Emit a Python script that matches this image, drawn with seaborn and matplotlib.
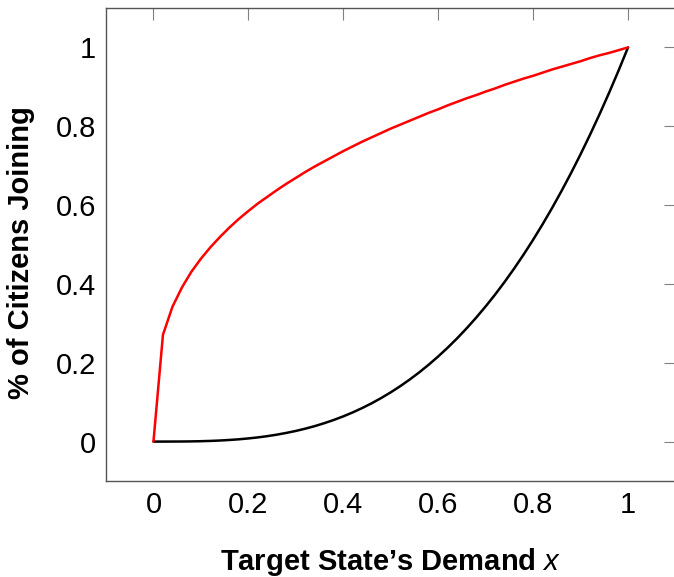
import matplotlib
matplotlib.use("Agg")
import matplotlib.pyplot as plt
import seaborn as sns
import pandas as pd

# sampled demand values (step 0.02)
demand = [0.00, 0.02, 0.04, 0.06, 0.08, 0.10, 0.12, 0.14, 0.16, 0.18,
          0.20, 0.22, 0.24, 0.26, 0.28, 0.30, 0.32, 0.34, 0.36, 0.38,
          0.40, 0.42, 0.44, 0.46, 0.48, 0.50, 0.52, 0.54, 0.56, 0.58,
          0.60, 0.62, 0.64, 0.66, 0.68, 0.70, 0.72, 0.74, 0.76, 0.78,
          0.80, 0.82, 0.84, 0.86, 0.88, 0.90, 0.92, 0.94, 0.96, 0.98, 1.00]

# upper (red) curve
joining_high = [0.000, 0.271, 0.342, 0.391, 0.431, 0.464, 0.493, 0.519, 0.543, 0.565,
                0.585, 0.604, 0.621, 0.638, 0.654, 0.669, 0.684, 0.698, 0.711, 0.724,
                0.737, 0.749, 0.761, 0.772, 0.783, 0.794, 0.804, 0.814, 0.824, 0.834,
                0.843, 0.853, 0.862, 0.871, 0.879, 0.888, 0.896, 0.905, 0.913, 0.921,
                0.928, 0.936, 0.944, 0.951, 0.958, 0.965, 0.973, 0.980, 0.986, 0.993, 1.000]

# lower (black) curve
joining_low = [0.0000, 0.0000, 0.0001, 0.0002, 0.0005, 0.0010, 0.0017, 0.0027, 0.0041, 0.0058,
               0.0080, 0.0106, 0.0138, 0.0176, 0.0220, 0.0270, 0.0328, 0.0393, 0.0467, 0.0549,
               0.0640, 0.0741, 0.0852, 0.0973, 0.1106, 0.1250, 0.1406, 0.1575, 0.1756, 0.1951,
               0.2160, 0.2383, 0.2621, 0.2875, 0.3144, 0.3430, 0.3732, 0.4052, 0.4390, 0.4746,
               0.5120, 0.5514, 0.5927, 0.6361, 0.6815, 0.7290, 0.7787, 0.8306, 0.8847, 0.9412, 1.0000]

ticks = [0, 0.2, 0.4, 0.6, 0.8, 1]
tick_labels = ["0", "0.2", "0.4", "0.6", "0.8", "1"]

sns.set_style("white")
plt.rcParams['font.family'] = ['Liberation Sans', 'DejaVu Sans']
plt.rcParams['mathtext.fontset'] = 'custom'
plt.rcParams['mathtext.it'] = 'Liberation Sans:italic'
plt.rcParams['mathtext.rm'] = 'Liberation Sans'
plt.rcParams['text.color'] = 'black'
plt.rcParams['axes.labelcolor'] = 'black'

df = pd.DataFrame({"x": demand, "high": joining_high, "low": joining_low})

fig = plt.figure(figsize=(6.74, 5.77), dpi=100)
ax = fig.add_axes([106 / 674, 96 / 577, 569.5 / 674, 473 / 577])

sns.lineplot(data=df, x="x", y="low", color="black", linewidth=1.8, sort=False, ax=ax)
sns.lineplot(data=df, x="x", y="high", color="#ff0000", linewidth=1.8, sort=False, ax=ax)

ax.set_xlim(-0.1, 1.1)
ax.set_ylim(-0.1, 1.1)
ax.set_xticks(ticks)
ax.set_xticklabels(tick_labels)
ax.set_yticks(ticks)
ax.set_yticklabels(tick_labels)
ax.tick_params(direction="in", length=8.5, width=0.8, color="#808080",
               top=True, right=True, labelsize=21, labelcolor="black", pad=7)

for side in ["left", "bottom", "top", "right"]:
    ax.spines[side].set_color("#555555")
    ax.spines[side].set_linewidth(1.0)
    ax.spines[side].set_visible(True)

ax.set_xlabel("Target State\u2019s Demand $x$", fontsize=21, fontweight="bold", labelpad=20)
ax.set_ylabel("% of Citizens Joining", fontsize=21, fontweight="bold")
ax.yaxis.set_label_coords(-0.125, 0.482)

fig.savefig("out.png", dpi=100)
